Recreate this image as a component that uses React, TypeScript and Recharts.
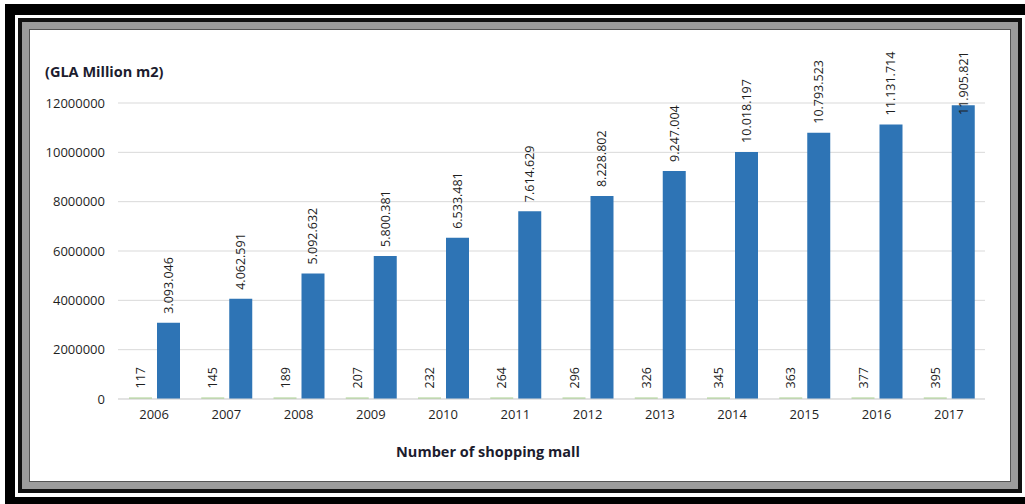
import { Bar, BarChart, CartesianGrid, XAxis, YAxis } from 'recharts';

const years = ['2006', '2007', '2008', '2009', '2010', '2011', '2012', '2013', '2014', '2015', '2016', '2017'];
const mallCounts = [117, 145, 189, 207, 232, 264, 296, 326, 345, 363, 377, 395];
const glaValues = [
  3093046, 4062591, 5092632, 5800381, 6533481, 7614629,
  8228802, 9247004, 10018197, 10793523, 11131714, 11905821,
];
const yTicks = [0, 2000000, 4000000, 6000000, 8000000, 10000000, 12000000];

const data = years.map((year, i) => ({ year, malls: mallCounts[i], gla: glaValues[i] }));

const FONT = '"Open Sans", sans-serif';
const TEXT = '#1f1f1f';

const withDots = (v: number) => String(v).replace(/\B(?=(\d{3})+(?!\d))/g, '.');

function VerticalLabel(props: any) {
  const { x, y, width, value } = props;
  const label = withDots(Number(value));
  const cx = Number(x) + Number(width) / 2;
  // keep long labels inside the chart area, like the spreadsheet does
  const minStart = 50 + label.length * 6.5;
  const start = Math.max(Number(y) - 9, minStart);
  return (
    <text
      x={cx}
      y={start}
      transform={`rotate(-90 ${cx} ${start})`}
      textAnchor="start"
      dominantBaseline="central"
      fontSize={12.5}
      fontFamily={FONT}
      fill={TEXT}
    >
      {label}
    </text>
  );
}

export default function App() {
  return (
    <div style={{ position: 'fixed', left: 0, top: 0, width: 1025, height: 504, background: '#fff', overflow: 'hidden' }}>
      {/* outer black frame, cut off on the right */}
      <div style={{ position: 'absolute', left: 5, top: 4, width: 1020, height: 500, boxSizing: 'border-box', borderTop: '11px solid #000', borderLeft: '10px solid #000', borderBottom: '7px solid #000' }} />
      {/* inner bevelled frame */}
      <div style={{ position: 'absolute', left: 18, top: 18, width: 1004, height: 475, boxSizing: 'border-box', border: '4px solid #111' }}>
        <div style={{ width: '100%', height: '100%', boxSizing: 'border-box', border: '7px solid #9c9c9c' }}>
          <div style={{ width: '100%', height: '100%', boxSizing: 'border-box', border: '1px solid #555', background: '#fff' }} />
        </div>
      </div>

      <div style={{ position: 'absolute', left: 0, top: 0 }}>
        <BarChart
          width={1025}
          height={504}
          data={data}
          margin={{ top: 103, right: 40, bottom: 75, left: 0 }}
          barSize={23}
          barGap={5}
        >
          <CartesianGrid horizontal vertical={false} stroke="#d9d9d9" />
          <XAxis
            dataKey="year"
            height={30}
            axisLine={{ stroke: '#d9d9d9' }}
            tickLine={false}
            tickSize={0}
            tickMargin={11}
            tick={{ fontSize: 13, fontFamily: FONT, fill: TEXT }}
          />
          <YAxis
            width={118}
            domain={[0, 12000000]}
            ticks={yTicks}
            axisLine={false}
            tickLine={false}
            tickSize={0}
            tickMargin={13}
            tick={{ fontSize: 13, fontFamily: FONT, fill: TEXT }}
          />
          <Bar dataKey="malls" fill="#a9d18e" minPointSize={1.5} isAnimationActive={false} label={<VerticalLabel />} />
          <Bar dataKey="gla" fill="#2e74b5" isAnimationActive={false} label={<VerticalLabel />} />
        </BarChart>
      </div>

      <div style={{ position: 'absolute', left: 45, top: 62, fontFamily: FONT, fontWeight: 700, fontSize: 14.5, color: '#1c1c2e', whiteSpace: 'nowrap' }}>
        (GLA Million m2)
      </div>
      <div style={{ position: 'absolute', left: 388, top: 442, width: 200, textAlign: 'center', fontFamily: FONT, fontWeight: 700, fontSize: 14.5, color: '#1c1c2e', whiteSpace: 'nowrap' }}>
        Number of shopping mall
      </div>
    </div>
  );
}
